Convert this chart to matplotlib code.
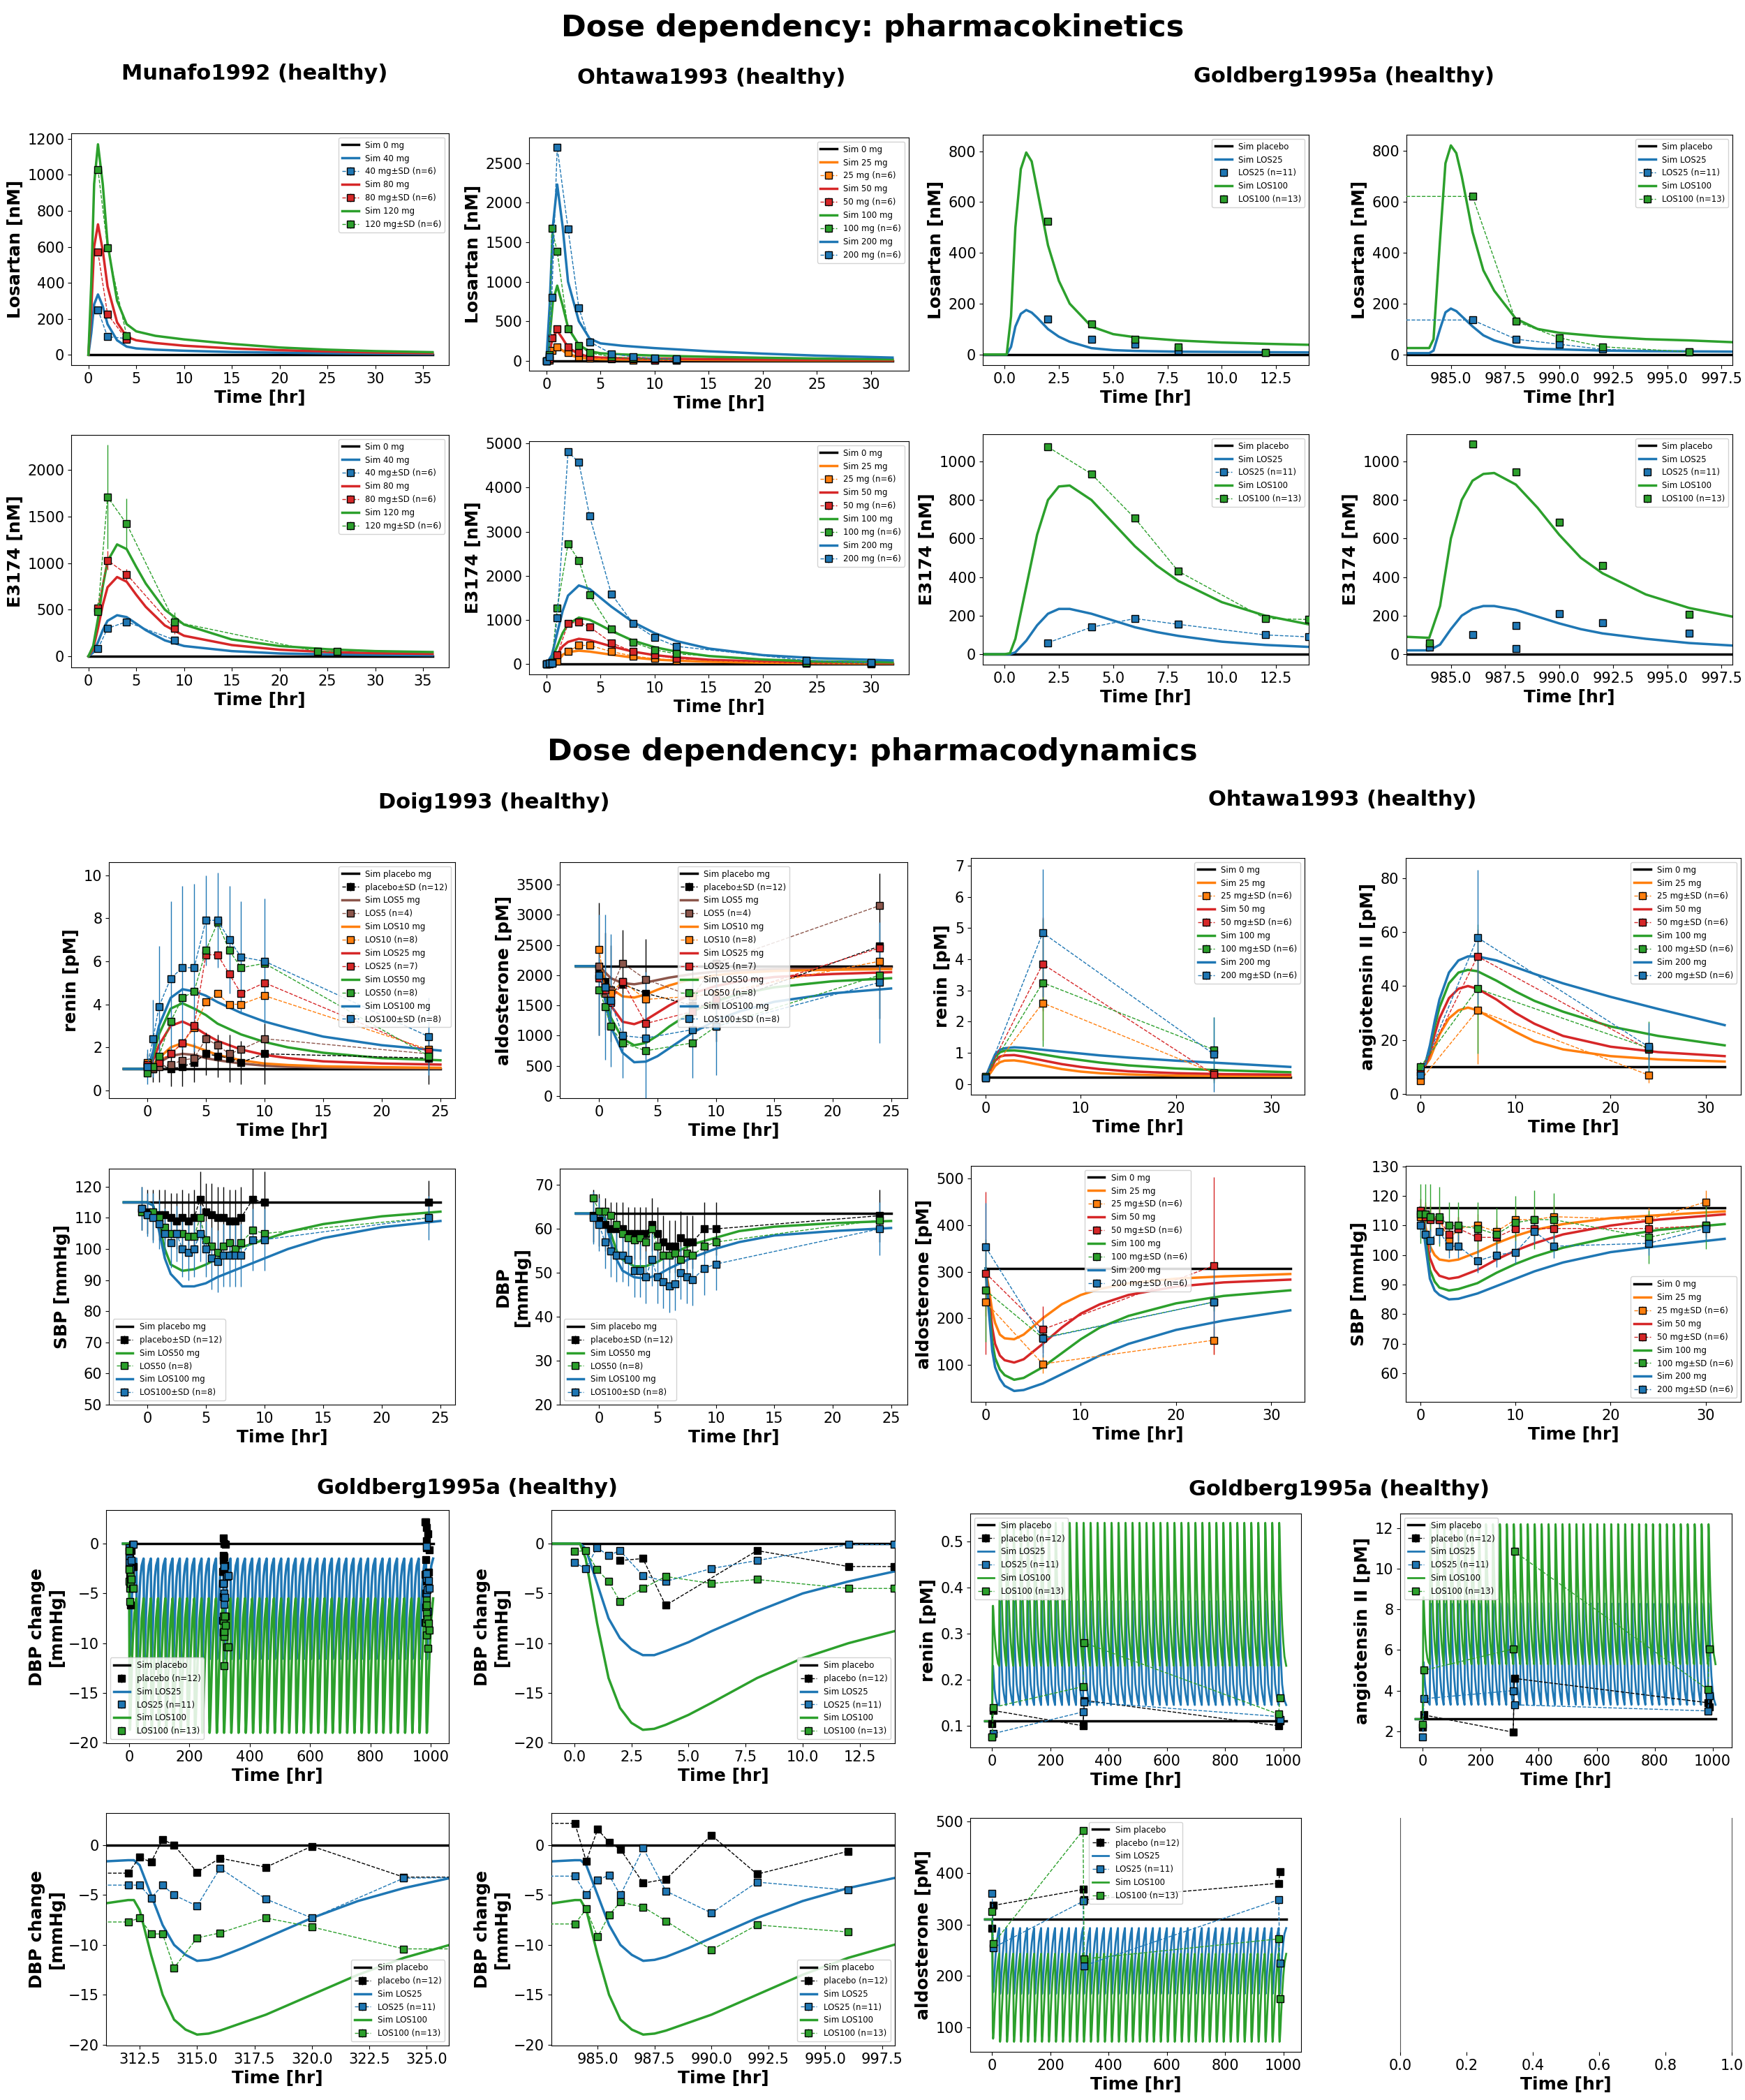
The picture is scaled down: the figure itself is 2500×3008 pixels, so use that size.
import numpy as np
import matplotlib
matplotlib.use("Agg")
import matplotlib.pyplot as plt

W, H = 2500, 3008
BK, BL, OR, RD, GR, BR = 'black', '#1f77b4', '#ff7f0e', '#d62728', '#2ca02c', '#8c564b'

# ---------------- DATA ----------------
# Munafo1992 losartan
mu_t_sim = [0, 0.3, 0.6, 1, 1.5, 2, 3, 4, 5, 7, 10, 15, 20, 25, 30, 36]
mu_los40 = [0, 120, 280, 335, 270, 170, 80, 45, 35, 28, 22, 15, 11, 8, 6, 4]
mu_los80 = [0, 250, 600, 725, 580, 380, 180, 100, 80, 65, 50, 35, 25, 18, 12, 8]
mu_los120 = [0, 400, 950, 1170, 950, 620, 300, 170, 130, 105, 85, 60, 40, 28, 20, 14]
mu_t_dat = [1, 2, 4]
mu_d40 = [250, 100, 90]
mu_d80 = [570, 225, 85]
mu_d120 = [1030, 595, 105]
# Munafo1992 E3174
mue_t_sim = [0, 0.5, 1, 1.5, 2, 3, 4, 5, 6, 8, 10, 15, 20, 25, 30, 36]
mue_40 = [0, 40, 150, 280, 380, 440, 420, 350, 280, 170, 110, 55, 30, 20, 15, 10]
mue_80 = [0, 80, 300, 550, 740, 850, 800, 660, 530, 330, 220, 120, 70, 45, 33, 25]
mue_120 = [0, 110, 400, 750, 1020, 1200, 1150, 960, 780, 500, 340, 180, 110, 75, 55, 45]
mue_t40 = [1, 2, 4, 9]
mue_d40 = [80, 300, 370, 175]
mue_e40 = [20, 40, 40, 20]
mue_t80 = [1, 2, 4, 9]
mue_d80 = [520, 1030, 880, 300]
mue_e80 = [60, 100, 60, 60]
mue_t120 = [1, 2, 4, 9, 24, 26]
mue_d120 = [480, 1710, 1420, 370, 50, 50]
mue_e120 = [100, 560, 270, 100, 20, 20]
# Ohtawa1993 losartan
oh_t_sim = [0, 0.3, 0.6, 1, 1.5, 2, 3, 4, 5, 7, 10, 15, 20, 25, 32]
oh_l200 = [0, 700, 1700, 2230, 1700, 1000, 500, 280, 220, 190, 160, 120, 90, 65, 40]
oh_l100 = [0, 300, 750, 950, 700, 420, 200, 120, 95, 80, 65, 50, 38, 28, 18]
oh_l50 = [0, 120, 300, 380, 280, 170, 80, 50, 40, 32, 27, 20, 15, 11, 7]
oh_l25 = [0, 55, 140, 170, 130, 80, 40, 25, 20, 16, 13, 10, 7, 5, 3]
oh_t_dat = [0, 0.25, 0.5, 1, 2, 3, 4, 6, 8, 10, 12]
oh_d200 = [0, 50, 800, 2700, 1670, 670, 240, 90, 50, 30, 20]
oh_d100 = [0, 80, 1680, 1380, 400, 190, 100, 50, 30, 20, 15]
oh_d50 = [0, 20, 290, 400, 170, 100, 50, 30, 20, 10, 5]
oh_d25 = [0, 10, 130, 175, 100, 50, 30, 20, 10, 5, 3]
# Ohtawa1993 E3174
ohe_t_sim = [0, 0.5, 1, 1.5, 2, 3, 4, 5, 6, 8, 10, 12, 15, 20, 25, 32]
ohe_200 = [0, 200, 700, 1200, 1550, 1780, 1700, 1500, 1300, 950, 700, 520, 350, 200, 130, 80]
ohe_100 = [0, 120, 400, 700, 900, 1050, 1000, 880, 750, 530, 380, 280, 180, 100, 60, 35]
ohe_50 = [0, 60, 220, 400, 500, 570, 540, 470, 400, 280, 200, 150, 95, 55, 35, 20]
ohe_25 = [0, 30, 120, 210, 270, 300, 280, 245, 210, 145, 100, 75, 50, 28, 18, 10]
ohe_t_dat = [0, 0.25, 0.5, 1, 2, 3, 4, 6, 8, 10, 12, 24, 30]
ohe_d200 = [0, 10, 20, 1040, 4810, 4570, 3350, 1590, 920, 600, 400, 80, 30]
ohe_d100 = [0, 10, 40, 1270, 2720, 2350, 1560, 790, 490, 320, 230, 40, 20]
ohe_d50 = [0, 10, 30, 200, 920, 950, 840, 480, 280, 200, 120, 20, 10]
ohe_d25 = [0, 5, 20, 60, 280, 420, 420, 280, 180, 120, 80, 10, 5]
# Goldberg1995a losartan, day 1 and day 41
go_t1 = [-1, 0.1, 0.3, 0.5, 0.75, 1, 1.25, 1.5, 2, 2.5, 3, 4, 5, 6, 8, 10, 12, 14]
go_l100_1 = [0, 0, 150, 500, 730, 795, 760, 650, 430, 290, 200, 110, 80, 68, 55, 47, 42, 38]
go_l25_1 = [0, 0, 30, 110, 160, 175, 165, 145, 100, 70, 50, 25, 17, 14, 11, 10, 9, 8]
go_dt1 = [2, 4, 6, 8, 12]
go_d25_1 = [140, 60, 40, 15, 8]
go_d100_1 = [525, 120, 60, 30, 8]
go_t41 = [983, 984, 984.2, 984.5, 984.75, 985, 985.25, 985.5, 986, 986.5, 987, 988, 989, 990, 992, 994, 996, 998]
go_l100_41 = [25, 25, 60, 450, 750, 820, 790, 700, 480, 330, 250, 140, 100, 85, 70, 60, 55, 48]
go_l25_41 = [5, 5, 15, 100, 165, 180, 170, 150, 110, 75, 55, 30, 22, 20, 15, 13, 12, 11]
go_dt41 = [982, 986, 988, 990, 992, 996]
go_d25_41 = [135, 135, 60, 40, 20, 10]
go_d100_41 = [620, 620, 130, 65, 30, 10]
# Goldberg1995a E3174
goe_t1 = [-1, 0, 0.25, 0.5, 1, 1.5, 2, 2.5, 3, 4, 5, 6, 7, 8, 10, 12, 14]
goe_100_1 = [0, 0, 5, 80, 350, 620, 800, 870, 875, 800, 680, 560, 460, 380, 270, 200, 155]
goe_25_1 = [0, 0, 0, 10, 70, 150, 210, 235, 235, 210, 175, 140, 115, 95, 65, 48, 38]
goe_dt1 = [2, 4, 6, 8, 12, 14]
goe_d25_1 = [60, 140, 185, 155, 100, 90]
goe_d100_1 = [1075, 935, 705, 430, 185, 180]
goe_t41 = [983, 984, 984.5, 985, 985.5, 986, 986.5, 987, 988, 989, 990, 991, 992, 994, 996, 998]
goe_100_41 = [90, 85, 250, 600, 800, 900, 935, 940, 880, 760, 620, 500, 420, 310, 240, 195]
goe_25_41 = [20, 20, 50, 130, 200, 235, 250, 250, 230, 195, 160, 130, 108, 80, 58, 45]
goe_dt25_41 = [984, 986, 988, 988, 990, 992, 996]
goe_d25_41 = [35, 100, 150, 30, 210, 165, 110]
goe_dt100_41 = [984, 986, 988, 990, 992, 996]
goe_d100_41 = [60, 1090, 945, 685, 460, 205]
# Doig1993 renin / aldosterone
dg_t_sim = [-2, 0, 0.5, 1, 2, 3, 4, 5, 6, 8, 10, 12, 15, 20, 25]
dg_ren100 = [1, 1, 1.8, 3.0, 4.3, 4.7, 4.6, 4.4, 4.1, 3.6, 3.2, 2.9, 2.5, 2.1, 1.85]
dg_ren50 = [1, 1, 1.6, 2.6, 3.8, 4.05, 3.8, 3.5, 3.1, 2.6, 2.25, 2.0, 1.75, 1.5, 1.4]
dg_ren25 = [1, 1, 1.4, 2.1, 3.0, 3.2, 2.95, 2.6, 2.3, 1.9, 1.65, 1.5, 1.35, 1.25, 1.2]
dg_ren10 = [1, 1, 1.2, 1.5, 2.0, 2.2, 2.05, 1.85, 1.65, 1.4, 1.25, 1.18, 1.12, 1.08, 1.05]
dg_ren5 = [1, 1, 1.1, 1.3, 1.6, 1.7, 1.65, 1.5, 1.4, 1.25, 1.15, 1.1, 1.06, 1.03, 1.02]
dg_t_ren = [0, 0.5, 1, 2, 3, 4, 5, 6, 7, 8, 10, 24]
dg_rd0 = [1.2, 1.0, 1.2, 1.0, 1.1, 1.3, 1.7, 1.6, 1.5, 1.3, 1.7, 1.5]
dg_re0 = [0.5, 0.6, 0.8, 0.8, 0.9, 0.9, 1.0, 1.0, 1.1, 1.0, 1.4, 1.2]
dg_rd5 = [1.1, 1.0, 1.1, 1.2, 1.4, 1.5, 2.4, 2.1, 1.7, 1.9, 2.4, 1.7]
dg_rd10 = [1.3, 1.1, 1.4, 1.7, 2.2, 2.9, 4.1, 4.5, 4.0, 4.0, 4.4, 1.9]
dg_rd25 = [1.2, 1.1, 1.3, 1.7, 2.2, 3.0, 6.3, 6.3, 5.4, 4.5, 5.0, 1.8]
dg_rd50 = [0.8, 1.1, 1.6, 3.2, 4.3, 4.6, 6.5, 7.8, 6.5, 5.7, 5.9, 1.6]
dg_rd100 = [1.1, 2.4, 3.9, 5.2, 5.7, 5.7, 7.9, 7.9, 7.0, 6.2, 6.0, 2.5]
dg_re100 = [0.8, 1.8, 2.8, 3.6, 3.8, 3.9, 2.1, 2.2, 2.5, 2.6, 2.9, 1.8]
dg_ald0 = [2150] * 15
dg_ald5 = [2150, 2150, 2050, 1950, 1870, 1850, 1880, 1920, 1960, 2020, 2060, 2080, 2100, 2110, 2120]
dg_ald10 = [2150, 2150, 1950, 1780, 1650, 1630, 1680, 1760, 1830, 1940, 2000, 2040, 2070, 2090, 2100]
dg_ald25 = [2150, 2150, 1800, 1500, 1230, 1190, 1260, 1380, 1500, 1700, 1820, 1900, 1970, 2020, 2050]
dg_ald50 = [2150, 2150, 1700, 1300, 950, 840, 880, 1000, 1150, 1400, 1570, 1690, 1800, 1900, 1950]
dg_ald100 = [2150, 2150, 1600, 1150, 720, 560, 570, 660, 790, 1050, 1250, 1400, 1560, 1700, 1780]
dg_t_ald = [0, 0.5, 1, 2, 4, 8, 10, 24]
dg_ad0 = [2100, 1900, 1700, 1850, 1700, 1500, 1500, 2480]
dg_ae0 = [1100, 800, 800, 900, 900, 600, 600, 1200]
dg_ad5 = [2150, 1700, 1750, 2200, 1930, 1650, 2200, 3150]
dg_ad10 = [2430, 1750, 1700, 1900, 1600, 1650, 1700, 2230]
dg_ad25 = [1950, 1750, 1550, 1900, 1200, 1400, 1600, 2450]
dg_ad50 = [1760, 1480, 1150, 880, 750, 880, 1150, 2000]
dg_ad100 = [2000, 1800, 1580, 1000, 960, 1100, 1150, 1880]
dg_ae100 = [1000, 1200, 1100, 700, 1100, 800, 800, 1000]
# Doig1993 SBP / DBP
dgb_t_sim = [-2, 0, 0.5, 1, 1.5, 2, 3, 4, 5, 6, 8, 10, 12, 15, 20, 25]
dg_sbp0 = [115] * 16
dg_sbp50 = [115, 115, 114, 108, 100, 95, 93, 93.5, 95, 97, 100.5, 103, 105.5, 108, 110.5, 112]
dg_sbp100 = [115, 115, 114, 106, 97, 92, 88, 88, 89, 91, 94, 97, 100, 103.5, 107, 109]
dg_dbp0 = [63.5] * 16
dg_dbp50 = [63.5, 63.5, 62.5, 59, 55, 53, 51.5, 51.5, 52.5, 54, 56.5, 58, 59.5, 60.5, 61.3, 61.8]
dg_dbp100 = [63.5, 63.5, 62, 57, 53, 50.5, 49, 48.7, 49.5, 51, 53.5, 55.5, 57, 58.5, 59.5, 60.2]
dgb_t = [-0.5, 0, 0.5, 1, 1.5, 2, 2.5, 3, 3.5, 4, 4.5, 5, 5.5, 6, 6.5, 7, 7.5, 8, 9, 10, 24]
dg_sd0 = [113, 112, 111, 111, 111, 110, 109, 110, 109, 110, 116, 112, 111, 110, 110, 109, 109, 110, 116, 115, 115]
dg_sd50 = [112, 111, 112, 110, 107, 105, 105, 105, 104, 104, 110, 103, 101, 99, 101, 102, 100, 102, 106, 105, 110]
dg_sd100 = [113, 111, 110, 108, 105, 102, 105, 100, 99, 100, 105, 100, 97, 96, 98, 98, 98, 98, 103, 103, 110]
dg_sbp_err = [7, 7, 8, 8, 8, 8, 9, 9, 9, 9, 9, 9, 10, 10, 10, 10, 10, 10, 10, 10, 7]
dg_dd0 = [63, 62, 61, 60, 60, 60, 59, 59, 59, 59, 61, 59, 57, 56, 56, 58, 57, 57, 60, 60, 63]
dg_dd50 = [67, 64, 64, 63, 61, 59, 58, 57.5, 58, 57, 60, 56, 54, 54, 54.5, 53, 54.5, 54, 56, 57, 62]
dg_dd100 = [62.5, 61, 57, 55, 54, 54, 53, 50.5, 50.5, 49, 53, 49, 48, 47, 47.5, 50, 49, 48.5, 51, 52, 60]
dg_dbp_err = [6] * 21
# Ohtawa1993 PD
ohp_t_sim = [0, 0.5, 1, 1.5, 2, 3, 4, 6, 8, 10, 12, 15, 20, 25, 32]
ohr_0 = [0.22] * 15
ohr_200 = [0.22, 0.6, 0.95, 1.1, 1.15, 1.18, 1.16, 1.1, 1.04, 0.98, 0.92, 0.85, 0.75, 0.67, 0.55]
ohr_100 = [0.22, 0.55, 0.88, 1.02, 1.07, 1.08, 1.05, 0.95, 0.85, 0.77, 0.69, 0.6, 0.5, 0.44, 0.38]
ohr_50 = [0.22, 0.45, 0.75, 0.88, 0.92, 0.93, 0.88, 0.76, 0.64, 0.55, 0.48, 0.41, 0.35, 0.32, 0.3]
ohr_25 = [0.22, 0.35, 0.58, 0.7, 0.75, 0.76, 0.72, 0.6, 0.48, 0.4, 0.35, 0.31, 0.27, 0.26, 0.25]
ohp_t_dat = [0, 6, 24]
ohr_d25 = [0.2, 2.6, 0.35]
ohr_e25 = [0.1, 1.2, 0.2]
ohr_d50 = [0.25, 3.85, 0.3]
ohr_e50 = [0.1, 1.5, 0.2]
ohr_d100 = [0.25, 3.25, 1.1]
ohr_e100 = [0.1, 2.05, 1.05]
ohr_d200 = [0.2, 4.85, 0.95]
ohr_e200 = [0.1, 2.05, 1.2]
oha_t_sim = [0, 0.5, 1, 1.5, 2, 3, 4, 5, 6, 8, 10, 12, 15, 20, 25, 32]
oha_0 = [10] * 16
oha_200 = [10, 11, 18, 27, 35, 45, 49.5, 51, 51, 49.5, 47, 44.5, 41, 36, 31.5, 25.5]
oha_100 = [10, 11, 17, 25, 32, 41, 45, 46, 45.5, 42, 38, 34.5, 30.5, 25, 21.5, 18]
oha_50 = [10, 10.5, 15, 22, 28, 35.5, 39, 40, 39, 35, 30, 26, 21.5, 17.5, 15.5, 14]
oha_25 = [10, 10.5, 13, 17.5, 22, 28, 31, 32, 31, 27, 23, 19.5, 16.5, 14, 12.8, 12]
oha_d25 = [5, 31, 7]
oha_e25 = [1.5, 20, 3]
oha_d50 = [8, 51, 16.5]
oha_e50 = [2, 10, 3]
oha_d100 = [10, 39, 17]
oha_e100 = [2, 24, 10]
oha_d200 = [7, 58, 17.5]
oha_e200 = [2, 25, 9]
ohal_t_sim = [0, 0.3, 0.7, 1, 1.5, 2, 3, 4, 6, 8, 10, 12, 15, 20, 25, 32]
ohal_0 = [307] * 16
ohal_25 = [307, 270, 215, 190, 165, 157, 155, 165, 200, 230, 250, 263, 275, 285, 290, 295]
ohal_50 = [307, 255, 180, 145, 120, 110, 105, 112, 145, 180, 210, 230, 250, 268, 277, 283]
ohal_100 = [307, 240, 150, 115, 90, 78, 68, 72, 95, 125, 155, 180, 205, 232, 248, 260]
ohal_200 = [307, 225, 130, 95, 70, 55, 44, 46, 60, 80, 100, 120, 145, 175, 195, 217]
ohal_d25 = [235, 102, 153]
ohal_e25 = [30, 20, 30]
ohal_d50 = [297, 176, 313]
ohal_e50 = [175, 50, 190]
ohal_d100 = [260, 158, 235]
ohal_e100 = [110, 20, 20]
ohal_d200 = [353, 157, 235]
ohal_e200 = [95, 40, 75]
ohs_0 = [116] * 15
ohs_25 = [116, 110, 103, 100, 98.5, 98, 98.5, 101, 104, 106.5, 108.5, 110.5, 112.5, 113.5, 114.8]
ohs_50 = [116, 108, 99, 95, 93, 92, 92.5, 95, 98.5, 101.5, 104, 107, 110, 112, 113.8]
ohs_100 = [116, 106, 95, 91, 89, 88, 88.5, 90.5, 94, 97, 99.5, 102.5, 106, 108.5, 110.5]
ohs_200 = [116, 104, 92, 88, 86.5, 85, 85.2, 87, 89.5, 92, 94.5, 97.5, 101, 103, 105.5]
ohs_t_dat = [0, 0.5, 1, 2, 3, 4, 6, 8, 10, 12, 14, 24, 30]
ohs_d25 = [113, 114, 113, 112, 105, 109, 110, 108, 112, 112, 113, 112, 118]
ohs_d50 = [115, 113, 112, 112, 107, 109, 106, 106, 109, 109, 109, 109, 110]
ohs_d100 = [114, 114, 113, 113, 110, 110, 109, 107, 111, 112, 112, 106, 110]
ohs_d200 = [110, 107, 105, 108, 103, 103, 98, 100, 101, 108, 103, 104, 109]
ohs_e_small = [4] * 13
ohs_e_green = [10, 10, 11, 10, 8, 8, 9, 9, 9, 10, 9, 9, 8]
# Goldberg1995a PD daily profiles (read from day-1 / steady-state panels)
tau_dbp = [0, 0.25, 0.5, 1, 1.5, 2, 2.5, 3, 3.5, 4, 5, 6, 8, 10, 12, 14, 18, 24]
dbp25_first = [0, 0, -0.5, -4, -7.5, -9.5, -10.6, -11.2, -11.2, -10.8, -9.9, -8.8, -6.8, -5, -3.8, -2.8, -2, -1.5]
dbp100_first = [0, 0, -1.5, -8, -13.5, -16.5, -18, -18.7, -18.6, -18.2, -17.2, -16, -13.5, -11.5, -10, -8.8, -7, -5.5]
dbp25_ss = [-1.5, -1.5, -2, -5, -8, -10, -11, -11.6, -11.5, -11.2, -10.3, -9.3, -7.3, -5.6, -4.3, -3.3, -2.2, -1.5]
dbp100_ss = [-5.5, -5.5, -6.5, -11, -15, -17.5, -18.5, -19, -18.9, -18.6, -17.8, -17, -15, -13, -11.3, -10, -7.5, -5.5]
tau_pd = [0, 0.5, 1, 1.5, 2, 3, 4, 6, 8, 12, 16, 20, 24]
ren25_first = [0.11, 0.13, 0.18, 0.21, 0.23, 0.23, 0.22, 0.2, 0.18, 0.16, 0.15, 0.145, 0.145]
ren100_first = [0.11, 0.18, 0.28, 0.33, 0.36, 0.36, 0.35, 0.32, 0.3, 0.27, 0.25, 0.235, 0.23]
ren25_ss = [0.145, 0.18, 0.28, 0.35, 0.37, 0.36, 0.33, 0.28, 0.24, 0.19, 0.17, 0.155, 0.145]
ren100_ss = [0.23, 0.3, 0.45, 0.52, 0.54, 0.53, 0.5, 0.44, 0.39, 0.32, 0.28, 0.25, 0.23]
ang25_first = [2.6, 3.0, 4.2, 5.0, 5.4, 5.4, 5.2, 4.7, 4.3, 3.8, 3.5, 3.4, 3.3]
ang100_first = [2.6, 4.0, 6.5, 8.0, 8.6, 8.6, 8.2, 7.4, 6.8, 6.0, 5.6, 5.4, 5.3]
ang25_ss = [3.3, 4.2, 6.2, 7.7, 8.3, 8.1, 7.6, 6.6, 5.8, 4.7, 4.0, 3.6, 3.3]
ang100_ss = [5.3, 7.0, 10.0, 11.5, 12.2, 12.0, 11.3, 10.0, 9.0, 7.5, 6.5, 5.8, 5.3]
tau_ald = [0, 0.5, 1, 2, 3, 4, 6, 8, 12, 16, 20, 24]
ald25_first = [310, 275, 225, 180, 168, 170, 187, 207, 242, 266, 283, 293]
ald100_first = [310, 250, 170, 95, 78, 80, 100, 125, 170, 205, 228, 243]
ald25_ss = [293, 260, 215, 175, 165, 168, 185, 205, 240, 265, 282, 293]
ald100_ss = [243, 200, 140, 85, 72, 75, 95, 120, 165, 200, 225, 243]
n_doses = 42
# Goldberg DBP data
gd1_t0 = [2, 3, 4, 8, 12, 14]
gd1_d0 = [-1.7, -1.5, -6.2, -0.7, -2.3, -2.3]
gd1_t = [0, 0.5, 1, 1.5, 2, 3, 4, 6, 8, 12, 14]
gd1_d25 = [-1.9, -2.5, -0.4, -1.2, -0.7, -3.2, -3.8, -2.5, -1.7, -0.1, -0.1]
gd1_d100 = [-0.8, -0.7, -2.6, -3.8, -5.8, -4.5, -3.3, -4.0, -3.6, -4.5, -4.5]
gd13_t = [310, 312, 312.5, 313, 313.5, 314, 315, 316, 318, 320, 324, 328]
gd13_d0 = [-2.8, -2.8, -1.2, -1.7, 0.6, 0.0, -2.7, -1.3, -2.2, -0.1, -3.2, -3.2]
gd13_d25 = [-4.0, -4.0, -4.0, -5.3, -4.0, -5.0, -6.1, -2.3, -5.4, -7.3, -3.3, -3.2]
gd13_d100 = [-7.7, -7.7, -7.3, -8.9, -8.9, -12.3, -9.3, -8.8, -7.3, -8.2, -10.4, -10.4]
gd41_t = [982, 984, 984.5, 985, 985.5, 986, 987, 988, 990, 992, 996]
gd41_d0 = [2.2, 2.2, -1.6, 1.6, 0.3, -0.4, -3.8, -3.4, 1.0, -2.9, -0.6]
gd41_d25 = [-3.1, -3.1, -5.0, -3.5, -3.0, -5.0, -0.3, -4.6, -6.8, -3.7, -4.5]
gd41_d100 = [-7.9, -7.9, -6.4, -9.2, -7.0, -5.7, -6.2, -7.6, -10.5, -8.0, -8.7]
# Goldberg renin / angII / aldo data
gp_t = [0, 4, 312, 316, 984, 988]
gr_d0 = [0.105, 0.133, 0.10, 0.155, 0.10, 0.11]
gr_d25 = [0.075, 0.083, 0.13, 0.152, 0.12, 0.113]
gr_d100 = [0.075, 0.14, 0.185, 0.28, 0.125, 0.16]
ga_d0 = [2.2, 2.8, 1.95, 4.6, 3.4, 3.2]
ga_d25 = [1.7, 3.6, 4.0, 3.3, 3.0, 3.75]
ga_d100 = [2.35, 5.0, 6.05, 10.85, 4.05, 6.05]
gal_d0 = [292, 337, 368, 348, 380, 403]
gal_d25 = [360, 255, 345, 220, 348, 225]
gal_d100 = [325, 263, 483, 233, 272, 155]


# ---------------- HELPERS ----------------
HL = {}


def box(l, t, r, b):
    a = fig.add_axes([l / W, 1 - b / H, (r - l) / W, (b - t) / H])
    HL[a] = []
    return a


def sim(ax, t, y, c, lab, lw=2.5):
    h, = ax.plot(t, y, color=c, lw=lw, zorder=2)
    if lab:
        HL[ax].append((h, lab))


def dat(ax, t, y, c, lab, err=None, ls='--'):
    h = ax.errorbar(t, y, yerr=err, color=c, ls=ls, lw=1, marker='s', ms=7, mfc=c,
                    mec='black', mew=1, elinewidth=1, zorder=3)
    if lab:
        HL[ax].append((h, lab))


def multidose(first, ss, tau):
    ts, ys = [], []
    for k in range(n_doses):
        prof = first if k == 0 else ss
        ts.extend([24 * k + x for x in tau[:-1]])
        ys.extend(prof[:-1])
    ts.append(24 * n_doses)
    ys.append(ss[-1])
    return ts, ys


def style(ax, ylabel, xlim, ylim, leg_loc='upper right', xlabel='Time [hr]'):
    ax.set_xlim(*xlim)
    ax.set_ylim(*ylim)
    ax.set_xlabel(xlabel, fontsize=18, fontweight='bold')
    ax.set_ylabel(ylabel, fontsize=18, fontweight='bold')
    ax.tick_params(labelsize=15)
    if leg_loc:
        hs = [h for h, _ in HL[ax]]
        ls = [l for _, l in HL[ax]]
        ax.legend(hs, ls, loc=leg_loc, fontsize=8.5, framealpha=0.85)


fig = plt.figure(figsize=(25, 30.08), dpi=100)

fig.text(0.5, 1 - 40 / H, 'Dose dependency: pharmacokinetics', ha='center', va='center', fontsize=31, fontweight='bold')
fig.text(0.5, 1 - 1077 / H, 'Dose dependency: pharmacodynamics', ha='center', va='center', fontsize=31, fontweight='bold')
for (x, y, s) in [(365, 106, 'Munafo1992 (healthy)'), (1019, 111, 'Ohtawa1993 (healthy)'),
                  (1925, 110, 'Goldberg1995a (healthy)'), (708, 1150, 'Doig1993 (healthy)'),
                  (1923, 1146, 'Ohtawa1993 (healthy)'), (669, 2131, 'Goldberg1995a (healthy)'),
                  (1919, 2134, 'Goldberg1995a (healthy)')]:
    fig.text(x / W, 1 - y / H, s, ha='center', va='center', fontsize=22, fontweight='bold')

# ---- Row 1 ----
ax = box(102, 191, 643, 523)
sim(ax, [0, 36], [0, 0], BK, 'Sim 0 mg')
sim(ax, mu_t_sim, mu_los40, BL, 'Sim 40 mg')
dat(ax, mu_t_dat, mu_d40, BL, '40 mg±SD (n=6)', err=[5, 5, 5])
sim(ax, mu_t_sim, mu_los80, RD, 'Sim 80 mg')
dat(ax, mu_t_dat, mu_d80, RD, '80 mg±SD (n=6)', err=[10, 10, 5])
sim(ax, mu_t_sim, mu_los120, GR, 'Sim 120 mg')
dat(ax, mu_t_dat, mu_d120, GR, '120 mg±SD (n=6)', err=[20, 15, 10])
style(ax, 'Losartan [nM]', (-1.8, 37.7), (-58, 1231))

ax = box(758, 197, 1302, 531)
sim(ax, [0, 32], [0, 0], BK, 'Sim 0 mg')
for c, s, d, lab in [(OR, oh_l25, oh_d25, '25'), (RD, oh_l50, oh_d50, '50'),
                     (GR, oh_l100, oh_d100, '100'), (BL, oh_l200, oh_d200, '200')]:
    sim(ax, oh_t_sim, s, c, f'Sim {lab} mg')
    dat(ax, oh_t_dat, d, c, f'{lab} mg (n=6)', err=[1] * len(d))
style(ax, 'Losartan [nM]', (-1.6, 33.5), (-126, 2824))

ax = box(1408, 193, 1875, 523)
sim(ax, [-1, 14], [0, 0], BK, 'Sim placebo')
sim(ax, go_t1, go_l25_1, BL, 'Sim LOS25')
dat(ax, go_dt1, go_d25_1, BL, 'LOS25 (n=11)', err=[5] * 5, ls='none')
sim(ax, go_t1, go_l100_1, GR, 'Sim LOS100')
dat(ax, go_dt1, go_d100_1, GR, 'LOS100 (n=13)', err=[10] * 5, ls='none')
style(ax, 'Losartan [nM]', (-1.0, 14.0), (-42, 865))
ax.set_xticks([0, 2.5, 5, 7.5, 10, 12.5])

ax = box(2015, 193, 2482, 523)
sim(ax, [983, 998], [0, 0], BK, 'Sim placebo')
sim(ax, go_t41, go_l25_41, BL, 'Sim LOS25')
dat(ax, go_dt41, go_d25_41, BL, 'LOS25 (n=11)', err=[5] * 6)
sim(ax, go_t41, go_l100_41, GR, 'Sim LOS100')
dat(ax, go_dt41, go_d100_41, GR, 'LOS100 (n=13)', err=[10] * 6)
style(ax, 'Losartan [nM]', (982.95, 998.0), (-42, 862))
ax.set_xticks([985, 987.5, 990, 992.5, 995, 997.5])

# ---- Row 2 ----
ax = box(102, 623, 643, 956)
sim(ax, [0, 36], [0, 0], BK, 'Sim 0 mg')
sim(ax, mue_t_sim, mue_40, BL, 'Sim 40 mg')
dat(ax, mue_t40, mue_d40, BL, '40 mg±SD (n=6)', err=mue_e40)
sim(ax, mue_t_sim, mue_80, RD, 'Sim 80 mg')
dat(ax, mue_t80, mue_d80, RD, '80 mg±SD (n=6)', err=mue_e80)
sim(ax, mue_t_sim, mue_120, GR, 'Sim 120 mg')
dat(ax, mue_t120, mue_d120, GR, '120 mg±SD (n=6)', err=mue_e120)
style(ax, 'E3174 [nM]', (-1.8, 37.7), (-120, 2375))

ax = box(758, 632, 1302, 966)
sim(ax, [0, 32], [0, 0], BK, 'Sim 0 mg')
for c, s, d, lab in [(OR, ohe_25, ohe_d25, '25'), (RD, ohe_50, ohe_d50, '50'),
                     (GR, ohe_100, ohe_d100, '100'), (BL, ohe_200, ohe_d200, '200')]:
    sim(ax, ohe_t_sim, s, c, f'Sim {lab} mg')
    dat(ax, ohe_t_dat, d, c, f'{lab} mg (n=6)', err=[1] * len(d))
style(ax, 'E3174 [nM]', (-1.6, 33.5), (-237, 5050))

ax = box(1408, 622, 1875, 952)
sim(ax, [-1, 14], [0, 0], BK, 'Sim placebo')
sim(ax, goe_t1, goe_25_1, BL, 'Sim LOS25')
dat(ax, goe_dt1, goe_d25_1, BL, 'LOS25 (n=11)', err=[5] * 6)
sim(ax, goe_t1, goe_100_1, GR, 'Sim LOS100')
dat(ax, goe_dt1, goe_d100_1, GR, 'LOS100 (n=13)', err=[10] * 6)
style(ax, 'E3174 [nM]', (-1.0, 14.0), (-54, 1141))
ax.set_xticks([0, 2.5, 5, 7.5, 10, 12.5])

ax = box(2015, 622, 2482, 952)
sim(ax, [983, 998], [0, 0], BK, 'Sim placebo')
sim(ax, goe_t41, goe_25_41, BL, 'Sim LOS25')
dat(ax, goe_dt25_41, goe_d25_41, BL, 'LOS25 (n=11)', err=[5] * 7, ls='none')
sim(ax, goe_t41, goe_100_41, GR, 'Sim LOS100')
dat(ax, goe_dt100_41, goe_d100_41, GR, 'LOS100 (n=13)', err=[10] * 6, ls='none')
style(ax, 'E3174 [nM]', (982.95, 998.0), (-54, 1141))
ax.set_xticks([985, 987.5, 990, 992.5, 995, 997.5])

# ---- Row 3 ----
ax = box(156, 1235, 652, 1573)
sim(ax, [-2, 25], [1, 1], BK, 'Sim placebo mg')
dat(ax, dg_t_ren, dg_rd0, BK, 'placebo±SD (n=12)', err=dg_re0)
for c, s, d, lab, n in [(BR, dg_ren5, dg_rd5, 'LOS5', 4), (OR, dg_ren10, dg_rd10, 'LOS10', 8),
                        (RD, dg_ren25, dg_rd25, 'LOS25', 7), (GR, dg_ren50, dg_rd50, 'LOS50', 8)]:
    sim(ax, dg_t_sim, s, c, f'Sim {lab} mg')
    dat(ax, dg_t_ren, d, c, f'{lab} (n={n})')
sim(ax, dg_t_sim, dg_ren100, BL, 'Sim LOS100 mg')
dat(ax, dg_t_ren, dg_rd100, BL, 'LOS100±SD (n=8)', err=dg_re100)
style(ax, 'renin [pM]', (-3.27, 26.25), (-0.36, 10.6))

ax = box(802, 1235, 1300, 1573)
sim(ax, dg_t_sim, dg_ald0, BK, 'Sim placebo mg')
dat(ax, dg_t_ald, dg_ad0, BK, 'placebo±SD (n=12)', err=dg_ae0)
for c, s, d, lab, n in [(BR, dg_ald5, dg_ad5, 'LOS5', 4), (OR, dg_ald10, dg_ad10, 'LOS10', 8),
                        (RD, dg_ald25, dg_ad25, 'LOS25', 7), (GR, dg_ald50, dg_ad50, 'LOS50', 8)]:
    sim(ax, dg_t_sim, s, c, f'Sim {lab} mg')
    dat(ax, dg_t_ald, d, c, f'{lab} (n={n})')
sim(ax, dg_t_sim, dg_ald100, BL, 'Sim LOS100 mg')
dat(ax, dg_t_ald, dg_ad100, BL, 'LOS100±SD (n=8)', err=dg_ae100)
style(ax, 'aldosterone [pM]', (-3.37, 26.4), (-35, 3870), leg_loc='upper center')

ax = box(1391, 1229, 1869, 1568)
sim(ax, ohp_t_sim, ohr_0, BK, 'Sim 0 mg')
for c, s, d, e, lab in [(OR, ohr_25, ohr_d25, ohr_e25, '25'), (RD, ohr_50, ohr_d50, ohr_e50, '50'),
                        (GR, ohr_100, ohr_d100, ohr_e100, '100'), (BL, ohr_200, ohr_d200, ohr_e200, '200')]:
    sim(ax, ohp_t_sim, s, c, f'Sim {lab} mg')
    dat(ax, ohp_t_dat, d, c, f'{lab} mg±SD (n=6)', err=e)
style(ax, 'renin [pM]', (-1.54, 33.5), (-0.34, 7.25))

ax = box(2014, 1229, 2494, 1568)
sim(ax, oha_t_sim, oha_0, BK, 'Sim 0 mg')
for c, s, d, e, lab in [(OR, oha_25, oha_d25, oha_e25, '25'), (RD, oha_50, oha_d50, oha_e50, '50'),
                        (GR, oha_100, oha_d100, oha_e100, '100'), (BL, oha_200, oha_d200, oha_e200, '200')]:
    sim(ax, oha_t_sim, s, c, f'Sim {lab} mg')
    dat(ax, ohp_t_dat, d, c, f'{lab} mg±SD (n=6)', err=e)
style(ax, 'angiotensin II [pM]', (-1.54, 33.7), (-0.3, 87.5))

# ---- Row 4 ----
ax = box(156, 1674, 652, 2012)
sim(ax, dgb_t_sim, dg_sbp0, BK, 'Sim placebo mg')
dat(ax, dgb_t, dg_sd0, BK, 'placebo±SD (n=12)', err=dg_sbp_err)
sim(ax, dgb_t_sim, dg_sbp50, GR, 'Sim LOS50 mg')
dat(ax, dgb_t, dg_sd50, GR, 'LOS50 (n=8)')
sim(ax, dgb_t_sim, dg_sbp100, BL, 'Sim LOS100 mg')
dat(ax, dgb_t, dg_sd100, BL, 'LOS100±SD (n=8)', err=dg_sbp_err)
style(ax, 'SBP [mmHg]', (-3.27, 26.25), (50, 125.8), leg_loc='lower left')

ax = box(802, 1674, 1300, 2012)
sim(ax, dgb_t_sim, dg_dbp0, BK, 'Sim placebo mg')
dat(ax, dgb_t, dg_dd0, BK, 'placebo±SD (n=12)', err=dg_dbp_err)
sim(ax, dgb_t_sim, dg_dbp50, GR, 'Sim LOS50 mg')
dat(ax, dgb_t, dg_dd50, GR, 'LOS50 (n=8)')
sim(ax, dgb_t_sim, dg_dbp100, BL, 'Sim LOS100 mg')
dat(ax, dgb_t, dg_dd100, BL, 'LOS100±SD (n=8)', err=dg_dbp_err)
style(ax, 'DBP\n[mmHg]', (-3.37, 26.4), (20, 73.7), leg_loc='lower left')

ax = box(1391, 1670, 1869, 2008)
sim(ax, ohal_t_sim, ohal_0, BK, 'Sim 0 mg')
for c, s, d, e, lab in [(OR, ohal_25, ohal_d25, ohal_e25, '25'), (RD, ohal_50, ohal_d50, ohal_e50, '50'),
                        (GR, ohal_100, ohal_d100, ohal_e100, '100'), (BL, ohal_200, ohal_d200, ohal_e200, '200')]:
    sim(ax, ohal_t_sim, s, c, f'Sim {lab} mg')
    dat(ax, ohp_t_dat, d, c, f'{lab} mg±SD (n=6)', err=e)
style(ax, 'aldosterone [pM]', (-1.54, 33.5), (20.6, 527), leg_loc='upper center')

ax = box(2014, 1670, 2494, 2008)
sim(ax, ohp_t_sim, ohs_0, BK, 'Sim 0 mg')
for c, s, d, e, lab in [(OR, ohs_25, ohs_d25, ohs_e_small, '25'), (RD, ohs_50, ohs_d50, ohs_e_small, '50'),
                        (GR, ohs_100, ohs_d100, ohs_e_green, '100'), (BL, ohs_200, ohs_d200, ohs_e_small, '200')]:
    sim(ax, ohp_t_sim, s, c, f'Sim {lab} mg')
    dat(ax, ohs_t_dat, d, c, f'{lab} mg±SD (n=6)', err=e)
style(ax, 'SBP [mmHg]', (-1.54, 33.7), (50.3, 130.2), leg_loc='lower right')

# ---- Row 5 / 6 Goldberg PD ----
dbp25_t, dbp25_y = multidose(dbp25_first, dbp25_ss, tau_dbp)
dbp100_t, dbp100_y = multidose(dbp100_first, dbp100_ss, tau_dbp)


def dbp_panel(box_px, xlim, ylim, leg_loc, ls):
    ax = box(*box_px)
    sim(ax, [-20, 1010], [0, 0], BK, 'Sim placebo')
    dat(ax, gd1_t0, gd1_d0, BK, 'placebo (n=12)', err=[0.1] * len(gd1_t0), ls=ls)
    dat(ax, gd13_t, gd13_d0, BK, None, ls=ls)
    dat(ax, gd41_t, gd41_d0, BK, None, ls=ls)
    sim(ax, [-20, 0] + dbp25_t, [0, 0] + dbp25_y, BL, 'Sim LOS25')
    dat(ax, gd1_t, gd1_d25, BL, 'LOS25 (n=11)', err=[0.1] * len(gd1_t), ls=ls)
    dat(ax, gd13_t, gd13_d25, BL, None, ls=ls)
    dat(ax, gd41_t, gd41_d25, BL, None, ls=ls)
    sim(ax, [-20, 0] + dbp100_t, [0, 0] + dbp100_y, GR, 'Sim LOS100')
    dat(ax, gd1_t, gd1_d100, GR, 'LOS100 (n=13)', err=[0.1] * len(gd1_t), ls=ls)
    dat(ax, gd13_t, gd13_d100, GR, None, ls=ls)
    dat(ax, gd41_t, gd41_d100, GR, None, ls=ls)
    style(ax, 'DBP change\n[mmHg]', xlim, ylim, leg_loc=leg_loc)
    return ax


ax = dbp_panel((152, 2163, 643, 2497), (-76, 1060), (-20.05, 3.37), 'lower left', 'none')
ax = dbp_panel((790, 2163, 1282, 2497), (-1.0, 14.03), (-20.05, 3.37), 'lower right', '--')
ax.set_xticks([0, 2.5, 5, 7.5, 10, 12.5])
ax = dbp_panel((152, 2597, 643, 2930), (311.04, 325.96), (-20.1, 3.23), 'lower right', '--')
ax.set_xticks([312.5, 315, 317.5, 320, 322.5, 325])
ax = dbp_panel((790, 2597, 1282, 2930), (982.97, 998.05), (-20.1, 3.23), 'lower right', '--')
ax.set_xticks([985, 987.5, 990, 992.5, 995, 997.5])


def pd_multi(box_px, first25, ss25, first100, ss100, tau, base, d0, d25, d100, ylabel, xlim, ylim, leg_loc):
    ax = box(*box_px)
    t25, y25 = multidose(first25, ss25, tau)
    t100, y100 = multidose(first100, ss100, tau)
    sim(ax, [-25, 1010], [base, base], BK, 'Sim placebo')
    ax.plot(gp_t[1:5], d0[1:5], color=BK, ls='--', lw=1, zorder=3)
    for k in range(3):
        sl = slice(2 * k, 2 * k + 2)
        dat(ax, gp_t[sl], d0[sl], BK, 'placebo (n=12)' if k == 0 else None, err=[0.002 * base] * 2)
    sim(ax, [-25, 0] + t25[:-1] + [1010], [base, base] + y25[:-1] + [y25[-1]], BL, 'Sim LOS25', lw=2)
    dat(ax, gp_t, d25, BL, 'LOS25 (n=11)')
    sim(ax, [-25, 0] + t100[:-1] + [1010], [base, base] + y100[:-1] + [y100[-1]], GR, 'Sim LOS100', lw=2)
    dat(ax, gp_t, d100, GR, 'LOS100 (n=13)')
    style(ax, ylabel, xlim, ylim, leg_loc=leg_loc)
    ax.set_xticks([0, 200, 400, 600, 800, 1000])
    return ax


pd_multi((1390, 2168, 1864, 2503), ren25_first, ren25_ss, ren100_first, ren100_ss, tau_pd, 0.11,
         gr_d0, gr_d25, gr_d100, 'renin [pM]', (-75.5, 1061), (0.053, 0.56), 'upper left')
pd_multi((2006, 2168, 2481, 2503), ang25_first, ang25_ss, ang100_first, ang100_ss, tau_pd, 2.6,
         ga_d0, ga_d25, ga_d100, 'angiotensin II [pM]', (-78, 1066), (1.2, 12.72), 'upper left')
pd_multi((1390, 2604, 1864, 2939), ald25_first, ald25_ss, ald100_first, ald100_ss, tau_ald, 310,
         gal_d0, gal_d25, gal_d100, 'aldosterone [pM]', (-75.5, 1061), (52.5, 507), 'upper center')

ax = box(2006, 2604, 2481, 2939)
ax.set_xlim(0, 1)
ax.spines['top'].set_visible(False)
ax.spines['bottom'].set_visible(False)
ax.spines['left'].set_color('#555555')
ax.spines['right'].set_color('#555555')
ax.set_yticks([])
ax.tick_params(labelsize=15)
ax.set_xlabel('Time [hr]', fontsize=18, fontweight='bold')

fig.savefig('out.png', dpi=100)
